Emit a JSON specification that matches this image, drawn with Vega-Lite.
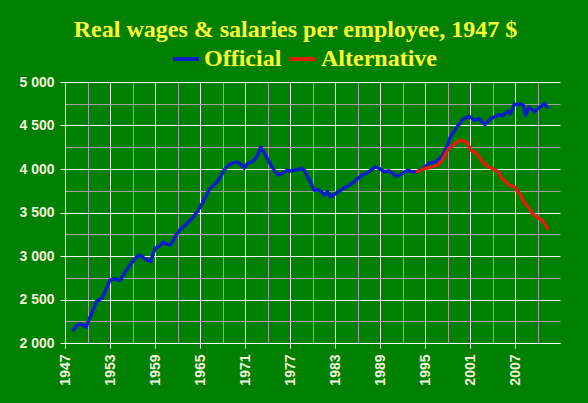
{
  "$schema": "https://vega.github.io/schema/vega-lite/v6.json",
  "width": 495,
  "height": 261,
  "autosize": {"type": "none"},
  "padding": {"left": 65, "top": 82, "right": 28, "bottom": 60},
  "background": "#008000",
  "title": {
    "text": "Real wages & salaries per employee, 1947 $",
    "font": "Liberation Serif",
    "fontWeight": "bold",
    "fontSize": 24,
    "color": "#ffff33",
    "anchor": "middle",
    "frame": "group",
    "dx": -17,
    "baseline": "alphabetic",
    "offset": -17
  },
  "data": {
    "values": [
      {"year": 1948.1, "value": 2152, "series": "Official"},
      {"year": 1948.6, "value": 2200, "series": "Official"},
      {"year": 1949.0, "value": 2221, "series": "Official"},
      {"year": 1949.4, "value": 2205, "series": "Official"},
      {"year": 1949.8, "value": 2183, "series": "Official"},
      {"year": 1950.3, "value": 2286, "series": "Official"},
      {"year": 1950.8, "value": 2390, "series": "Official"},
      {"year": 1951.2, "value": 2477, "series": "Official"},
      {"year": 1951.6, "value": 2500, "series": "Official"},
      {"year": 1951.9, "value": 2515, "series": "Official"},
      {"year": 1952.4, "value": 2600, "series": "Official"},
      {"year": 1953.0, "value": 2725, "series": "Official"},
      {"year": 1953.7, "value": 2737, "series": "Official"},
      {"year": 1954.3, "value": 2718, "series": "Official"},
      {"year": 1954.7, "value": 2770, "series": "Official"},
      {"year": 1955.2, "value": 2840, "series": "Official"},
      {"year": 1955.6, "value": 2890, "series": "Official"},
      {"year": 1956.1, "value": 2943, "series": "Official"},
      {"year": 1956.5, "value": 2985, "series": "Official"},
      {"year": 1956.9, "value": 3012, "series": "Official"},
      {"year": 1957.3, "value": 2990, "series": "Official"},
      {"year": 1957.7, "value": 2966, "series": "Official"},
      {"year": 1958.4, "value": 2936, "series": "Official"},
      {"year": 1958.7, "value": 3010, "series": "Official"},
      {"year": 1959.0, "value": 3088, "series": "Official"},
      {"year": 1959.5, "value": 3110, "series": "Official"},
      {"year": 1960.1, "value": 3157, "series": "Official"},
      {"year": 1960.5, "value": 3140, "series": "Official"},
      {"year": 1961.0, "value": 3127, "series": "Official"},
      {"year": 1961.3, "value": 3160, "series": "Official"},
      {"year": 1961.8, "value": 3240, "series": "Official"},
      {"year": 1962.3, "value": 3299, "series": "Official"},
      {"year": 1963.0, "value": 3350, "series": "Official"},
      {"year": 1963.7, "value": 3413, "series": "Official"},
      {"year": 1964.2, "value": 3460, "series": "Official"},
      {"year": 1964.6, "value": 3509, "series": "Official"},
      {"year": 1965.3, "value": 3605, "series": "Official"},
      {"year": 1965.8, "value": 3690, "series": "Official"},
      {"year": 1966.2, "value": 3758, "series": "Official"},
      {"year": 1966.8, "value": 3815, "series": "Official"},
      {"year": 1967.3, "value": 3853, "series": "Official"},
      {"year": 1967.8, "value": 3920, "series": "Official"},
      {"year": 1968.2, "value": 3987, "series": "Official"},
      {"year": 1968.8, "value": 4044, "series": "Official"},
      {"year": 1969.4, "value": 4070, "series": "Official"},
      {"year": 1969.9, "value": 4082, "series": "Official"},
      {"year": 1970.5, "value": 4050, "series": "Official"},
      {"year": 1970.9, "value": 4010, "series": "Official"},
      {"year": 1971.3, "value": 4063, "series": "Official"},
      {"year": 1971.9, "value": 4082, "series": "Official"},
      {"year": 1972.3, "value": 4110, "series": "Official"},
      {"year": 1972.6, "value": 4147, "series": "Official"},
      {"year": 1973.1, "value": 4250, "series": "Official"},
      {"year": 1973.6, "value": 4178, "series": "Official"},
      {"year": 1974.1, "value": 4100, "series": "Official"},
      {"year": 1974.6, "value": 4025, "series": "Official"},
      {"year": 1975.0, "value": 3970, "series": "Official"},
      {"year": 1975.5, "value": 3929, "series": "Official"},
      {"year": 1976.0, "value": 3950, "series": "Official"},
      {"year": 1976.6, "value": 3987, "series": "Official"},
      {"year": 1977.0, "value": 3975, "series": "Official"},
      {"year": 1977.5, "value": 3987, "series": "Official"},
      {"year": 1978.0, "value": 3990, "series": "Official"},
      {"year": 1978.5, "value": 4006, "series": "Official"},
      {"year": 1978.9, "value": 3990, "series": "Official"},
      {"year": 1979.6, "value": 3872, "series": "Official"},
      {"year": 1980.2, "value": 3758, "series": "Official"},
      {"year": 1980.9, "value": 3758, "series": "Official"},
      {"year": 1981.6, "value": 3700, "series": "Official"},
      {"year": 1982.0, "value": 3738, "series": "Official"},
      {"year": 1982.4, "value": 3681, "series": "Official"},
      {"year": 1983.1, "value": 3719, "series": "Official"},
      {"year": 1983.8, "value": 3758, "series": "Official"},
      {"year": 1984.4, "value": 3790, "series": "Official"},
      {"year": 1984.9, "value": 3815, "series": "Official"},
      {"year": 1985.5, "value": 3850, "series": "Official"},
      {"year": 1986.0, "value": 3891, "series": "Official"},
      {"year": 1986.6, "value": 3925, "series": "Official"},
      {"year": 1987.1, "value": 3949, "series": "Official"},
      {"year": 1987.8, "value": 3987, "series": "Official"},
      {"year": 1988.4, "value": 4025, "series": "Official"},
      {"year": 1988.9, "value": 4006, "series": "Official"},
      {"year": 1989.6, "value": 3968, "series": "Official"},
      {"year": 1990.2, "value": 3979, "series": "Official"},
      {"year": 1990.7, "value": 3950, "series": "Official"},
      {"year": 1991.1, "value": 3918, "series": "Official"},
      {"year": 1991.6, "value": 3930, "series": "Official"},
      {"year": 1992.0, "value": 3949, "series": "Official"},
      {"year": 1992.7, "value": 3987, "series": "Official"},
      {"year": 1993.3, "value": 3968, "series": "Official"},
      {"year": 1993.9, "value": 3968, "series": "Official"},
      {"year": 1994.3, "value": 3985, "series": "Official"},
      {"year": 1994.7, "value": 4006, "series": "Official"},
      {"year": 1995.2, "value": 4040, "series": "Official"},
      {"year": 1995.6, "value": 4071, "series": "Official"},
      {"year": 1996.0, "value": 4075, "series": "Official"},
      {"year": 1996.4, "value": 4082, "series": "Official"},
      {"year": 1996.8, "value": 4110, "series": "Official"},
      {"year": 1997.1, "value": 4132, "series": "Official"},
      {"year": 1997.5, "value": 4180, "series": "Official"},
      {"year": 1997.8, "value": 4235, "series": "Official"},
      {"year": 1998.1, "value": 4300, "series": "Official"},
      {"year": 1998.4, "value": 4369, "series": "Official"},
      {"year": 1998.8, "value": 4420, "series": "Official"},
      {"year": 1999.1, "value": 4465, "series": "Official"},
      {"year": 1999.6, "value": 4520, "series": "Official"},
      {"year": 2000.0, "value": 4568, "series": "Official"},
      {"year": 2000.5, "value": 4590, "series": "Official"},
      {"year": 2000.9, "value": 4606, "series": "Official"},
      {"year": 2001.3, "value": 4580, "series": "Official"},
      {"year": 2001.6, "value": 4560, "series": "Official"},
      {"year": 2002.2, "value": 4579, "series": "Official"},
      {"year": 2002.6, "value": 4540, "series": "Official"},
      {"year": 2003.0, "value": 4511, "series": "Official"},
      {"year": 2003.4, "value": 4550, "series": "Official"},
      {"year": 2003.8, "value": 4579, "series": "Official"},
      {"year": 2004.3, "value": 4600, "series": "Official"},
      {"year": 2004.9, "value": 4625, "series": "Official"},
      {"year": 2005.3, "value": 4610, "series": "Official"},
      {"year": 2005.8, "value": 4644, "series": "Official"},
      {"year": 2006.1, "value": 4660, "series": "Official"},
      {"year": 2006.4, "value": 4637, "series": "Official"},
      {"year": 2006.9, "value": 4744, "series": "Official"},
      {"year": 2007.3, "value": 4740, "series": "Official"},
      {"year": 2007.6, "value": 4751, "series": "Official"},
      {"year": 2008.1, "value": 4732, "series": "Official"},
      {"year": 2008.4, "value": 4618, "series": "Official"},
      {"year": 2008.9, "value": 4713, "series": "Official"},
      {"year": 2009.3, "value": 4680, "series": "Official"},
      {"year": 2009.6, "value": 4656, "series": "Official"},
      {"year": 2010.2, "value": 4706, "series": "Official"},
      {"year": 2010.6, "value": 4730, "series": "Official"},
      {"year": 2010.9, "value": 4751, "series": "Official"},
      {"year": 2011.3, "value": 4713, "series": "Official"},
      {"year": 1994.0, "value": 3968, "series": "Alternative"},
      {"year": 1994.9, "value": 4006, "series": "Alternative"},
      {"year": 1995.8, "value": 4018, "series": "Alternative"},
      {"year": 1996.7, "value": 4044, "series": "Alternative"},
      {"year": 1997.3, "value": 4102, "series": "Alternative"},
      {"year": 1998.0, "value": 4216, "series": "Alternative"},
      {"year": 1998.7, "value": 4274, "series": "Alternative"},
      {"year": 1999.3, "value": 4312, "series": "Alternative"},
      {"year": 2000.0, "value": 4331, "series": "Alternative"},
      {"year": 2000.7, "value": 4293, "series": "Alternative"},
      {"year": 2001.1, "value": 4216, "series": "Alternative"},
      {"year": 2001.8, "value": 4186, "series": "Alternative"},
      {"year": 2002.7, "value": 4082, "series": "Alternative"},
      {"year": 2003.3, "value": 4033, "series": "Alternative"},
      {"year": 2004.0, "value": 4006, "series": "Alternative"},
      {"year": 2004.7, "value": 3968, "series": "Alternative"},
      {"year": 2005.3, "value": 3891, "series": "Alternative"},
      {"year": 2006.2, "value": 3815, "series": "Alternative"},
      {"year": 2006.9, "value": 3796, "series": "Alternative"},
      {"year": 2007.6, "value": 3719, "series": "Alternative"},
      {"year": 2008.2, "value": 3624, "series": "Alternative"},
      {"year": 2008.7, "value": 3566, "series": "Alternative"},
      {"year": 2009.3, "value": 3490, "series": "Alternative"},
      {"year": 2010.0, "value": 3444, "series": "Alternative"},
      {"year": 2010.7, "value": 3406, "series": "Alternative"},
      {"year": 2011.3, "value": 3318, "series": "Alternative"}
    ]
  },
  "layer": [
    {
      "mark": {"type": "line", "opacity": 0},
      "encoding": {
        "x": {
          "field": "year", "type": "quantitative",
          "scale": {"domain": [1947, 2013], "nice": false, "zero": false},
          "axis": {
            "orient": "bottom", "values": [1950, 1956, 1962, 1968, 1974, 1980, 1986, 1992, 1998, 2004, 2010],
            "grid": true, "gridColor": "#a0a0a0", "gridWidth": 1, "gridOpacity": 1,
            "labels": false, "ticks": false, "domain": false, "title": null, "zindex": 0
          }
        },
        "y": {
          "field": "value", "type": "quantitative",
          "scale": {"domain": [2000, 5000], "nice": false, "zero": false},
          "axis": {
            "orient": "left", "values": [2250, 2750, 3250, 3750, 4250, 4750],
            "grid": true, "gridColor": "#a0a0a0", "gridWidth": 1, "gridOpacity": 1,
            "labels": false, "ticks": false, "domain": false, "title": null, "zindex": 0
          }
        },
        "detail": {"field": "series"}
      }
    },
    {
      "mark": {"type": "line", "strokeWidth": 3.5, "strokeJoin": "round", "strokeCap": "round"},
      "encoding": {
        "x": {
          "field": "year", "type": "quantitative",
          "scale": {"domain": [1947, 2013], "nice": false, "zero": false},
          "axis": {
            "orient": "bottom", "values": [1947, 1953, 1959, 1965, 1971, 1977, 1983, 1989, 1995, 2001, 2007],
            "format": "d", "labelAngle": -90, "labelAlign": "right", "labelBaseline": "middle",
            "labelFont": "Liberation Sans", "labelFontWeight": "bold", "labelFontSize": 14, "labelColor": "#f2f2dc",
            "labelPadding": 6, "tickSize": 5, "tickColor": "#ffffff", "domainColor": "#ffffff",
            "grid": true, "gridColor": "#ffffff", "gridOpacity": 0.95, "title": null, "zindex": 0
          }
        },
        "y": {
          "field": "value", "type": "quantitative",
          "scale": {"domain": [2000, 5000], "nice": false, "zero": false},
          "axis": {
            "orient": "left", "values": [2000, 2500, 3000, 3500, 4000, 4500, 5000],
            "labelExpr": "replace(format(datum.value, ','), ',', ' ')",
            "labelFont": "Liberation Sans", "labelFontWeight": "bold", "labelFontSize": 14, "labelColor": "#f2f2dc",
            "labelPadding": 6, "tickSize": 5, "tickColor": "#ffffff", "domainColor": "#ffffff",
            "grid": true, "gridColor": "#ffffff", "gridOpacity": 0.95, "title": null, "zindex": 0
          }
        },
        "color": {
          "field": "series", "type": "nominal",
          "scale": {"domain": ["Official", "Alternative"], "range": ["#0a1ec8", "#dc200a"]},
          "legend": {
            "orient": "none", "legendX": 106, "legendY": -38, "direction": "horizontal",
            "title": null, "padding": 0, "symbolType": "stroke", "symbolSize": 676, "symbolStrokeWidth": 4,
            "labelFont": "Liberation Serif", "labelFontWeight": "bold", "labelFontSize": 24, "labelColor": "#ffff33",
            "labelOffset": 3, "columnPadding": 0, "labelLimit": 300
          }
        }
      }
    }
  ],
  "resolve": {"axis": {"x": "independent", "y": "independent"}},
  "config": {"view": {"stroke": null}}
}
